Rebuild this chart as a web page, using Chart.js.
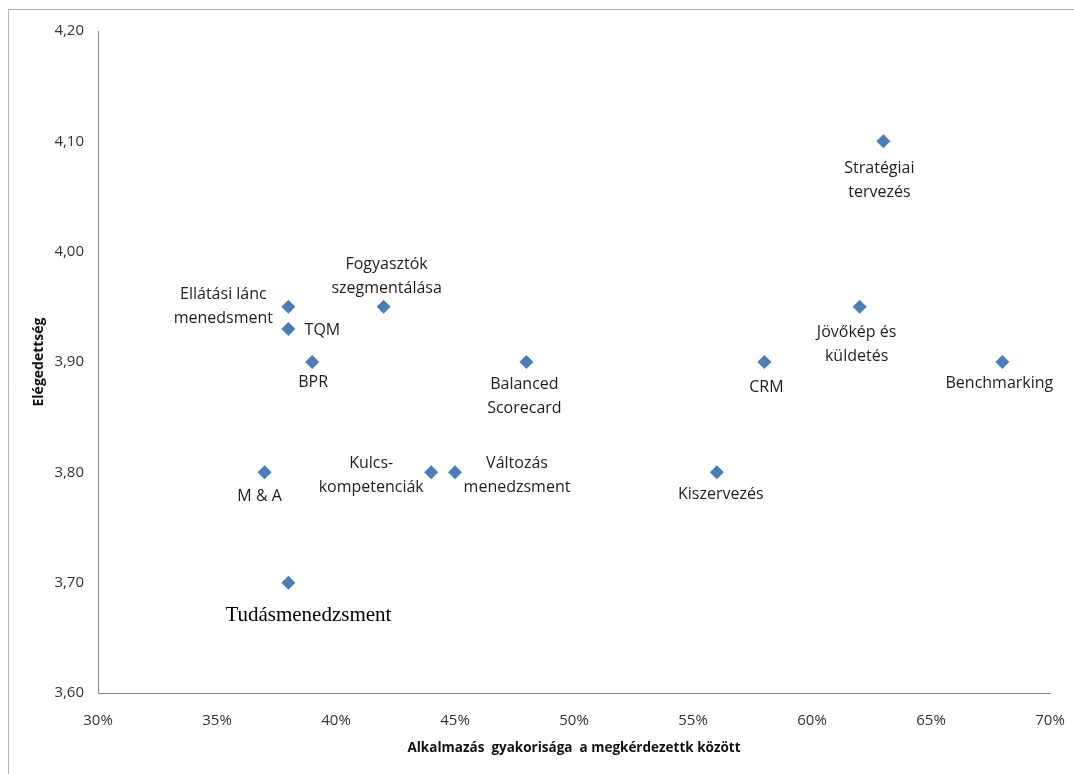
<!DOCTYPE html>
<html>
<head>
<meta charset="utf-8">
<script src="https://cdn.jsdelivr.net/npm/chart.js@4.4.0/dist/chart.umd.min.js"></script>
<style>
  html, body { margin: 0; padding: 0; background: #fff; overflow: hidden; }
  #wrap { width: 1074px; height: 774px; }
</style>
</head>
<body>
<div id="wrap"><canvas id="myChart" width="1074" height="774"></canvas></div>
<script>
const CHART = document.getElementById('myChart').getContext('2d');

// management tools: usage share (%) and satisfaction score
const TOOL_NAMES = [
  ['Stratégiai', 'tervezés'],
  ['Jövőkép és', 'küldetés'],
  ['Benchmarking'],
  ['CRM'],
  ['Kiszervezés'],
  ['Balanced', 'Scorecard'],
  ['Változás', 'menedzsment'],
  ['Kulcs-', 'kompetenciák'],
  ['Fogyasztók', 'szegmentálása'],
  ['Ellátási lánc', 'menedsment'],
  ['TQM'],
  ['BPR'],
  ['M & A'],
  ['Tudásmenedzsment'],
];
const USAGE = [63, 62, 68, 58, 56, 48, 45, 44, 42, 38, 38, 39, 37, 38];
const SATISFACTION = [4.10, 3.95, 3.90, 3.90, 3.80, 3.90, 3.80, 3.80, 3.95, 3.95, 3.93, 3.90, 3.80, 3.70];

const X_TICKS = [30, 35, 40, 45, 50, 55, 60, 65, 70];
const Y_TICKS = [3.6, 3.7, 3.8, 3.9, 4.0, 4.1, 4.2];

const X_TITLE = 'Alkalmazás  gyakorisága  a megkérdezettk között';
const Y_TITLE = 'Elégedettség';

// where each label sits relative to its marker: [dx, dy of first line]
const LABEL_OFFSETS = [
  [-4, 27], [-3, 26], [-3, 21], [2, 25], [4, 22], [-2, 22], [62, -9],
  [-60, -9], [3, -42], [-65, -12], [34, 2], [1, 20], [-5, 24], [20, 33],
];

const LABEL_FONT = '16px "Open Sans"';
const SERIF_FONT = '21px "Liberation Serif"';
const LINE_GAP = 24;

const pointLabels = {
  id: 'pointLabels',
  afterDatasetsDraw(chart) {
    const ctx = chart.ctx;
    const meta = chart.getDatasetMeta(0);
    const last = TOOL_NAMES.length - 1;
    ctx.save();
    ctx.textAlign = 'center';
    ctx.textBaseline = 'middle';
    meta.data.forEach((pt, i) => {
      const [dx, dy] = LABEL_OFFSETS[i];
      ctx.font = i === last ? SERIF_FONT : LABEL_FONT;
      ctx.fillStyle = i === last ? '#000' : '#1e1e1e';
      TOOL_NAMES[i].forEach((line, k) => {
        ctx.fillText(line, pt.x + dx, pt.y + dy + k * LINE_GAP);
      });
    });
    ctx.restore();
  },
};

const frameAndBackground = {
  id: 'frameAndBackground',
  beforeDraw(chart) {
    const ctx = chart.ctx;
    ctx.save();
    ctx.fillStyle = '#fff';
    ctx.fillRect(0, 0, chart.width, chart.height);
    ctx.strokeStyle = '#b4b4b4';
    ctx.lineWidth = 1;
    ctx.beginPath();
    ctx.moveTo(8.5, chart.height);
    ctx.lineTo(8.5, 9.5);
    ctx.lineTo(chart.width, 9.5);
    ctx.stroke();
    ctx.restore();
  },
};

const toolChart = new Chart(CHART, {
  type: 'scatter',
  data: {
    datasets: [
      {
        label: 'Eszközök',
        data: USAGE.map((u, i) => ({ x: u, y: SATISFACTION[i] })),
        pointStyle: 'rectRot',
        pointRadius: 7,
        pointHoverRadius: 7,
        backgroundColor: '#4a7ebb',
        borderColor: '#4a7ebb',
        borderWidth: 0,
      },
    ],
  },
  options: {
    responsive: false,
    animation: false,
    events: [],
    layout: { autoPadding: false, padding: { top: 31, right: 24, bottom: 0, left: 0 } },
    plugins: { legend: { display: false }, tooltip: { enabled: false } },
    scales: {
      x: {
        type: 'linear',
        min: 30,
        max: 70,
        afterFit: (s) => {
          s.height = 81;
          s.paddingLeft = 0;
          s.paddingRight = 0;
        },
        afterBuildTicks: (s) => { s.ticks = X_TICKS.map((v) => ({ value: v })); },
        grid: { display: false, drawTicks: false },
        border: { display: true, color: '#868686', width: 1 },
        ticks: {
          padding: 19,
          color: '#333',
          font: { family: 'Open Sans', size: 15 },
          maxRotation: 0,
          callback: (v) => v + '%',
        },
        title: {
          display: true,
          text: X_TITLE,
          color: '#111',
          font: { family: 'Open Sans', size: 13.5, weight: 'bold' },
          padding: { top: 0, bottom: 18 },
        },
      },
      y: {
        type: 'linear',
        min: 3.6,
        max: 4.2,
        afterFit: (s) => {
          s.width = 98;
          s.paddingTop = 0;
          s.paddingBottom = 0;
        },
        afterBuildTicks: (s) => { s.ticks = Y_TICKS.map((v) => ({ value: v })); },
        grid: { display: false, drawTicks: false },
        border: { display: true, color: '#868686', width: 1 },
        ticks: {
          padding: 14,
          color: '#333',
          font: { family: 'Open Sans', size: 15 },
          callback: (v) => v.toFixed(2).replace('.', ','),
        },
        title: {
          display: true,
          text: Y_TITLE,
          color: '#111',
          font: { family: 'Open Sans', size: 14, weight: 'bold' },
          padding: { top: 31, bottom: 0 },
        },
      },
    },
  },
  plugins: [frameAndBackground, pointLabels],
});
</script>
</body>
</html>
